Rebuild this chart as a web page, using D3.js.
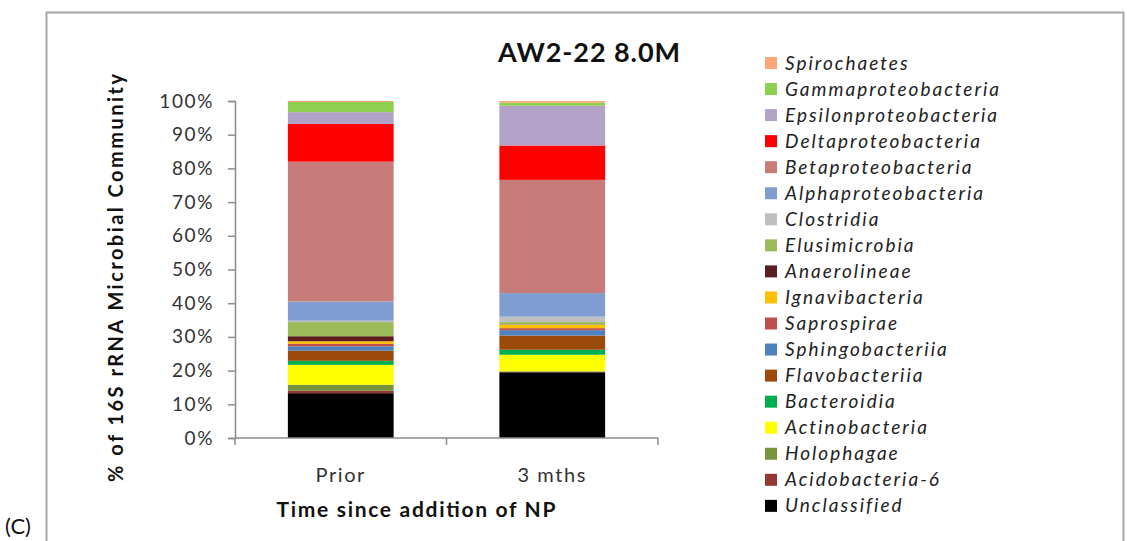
<!DOCTYPE html>
<html>
<head>
<meta charset="utf-8">
<script src="https://cdn.jsdelivr.net/npm/d3@7/dist/d3.min.js"></script>
<style>
  html, body { margin: 0; padding: 0; background: #fff; }
  svg { display: block; font-family: Lato, "Open Sans", "Liberation Sans", sans-serif; }
</style>
</head>
<body>
<svg id="chart" width="1127" height="541"></svg>
<script>
// Time points on the x axis
const categories = ["Prior", "3 mths"];

// Taxa, stacked from the bottom of each bar upward
const taxa = [
  "Unclassified", "Acidobacteria-6", "Holophagae", "Actinobacteria", "Bacteroidia",
  "Flavobacteriia", "Sphingobacteriia", "Saprospirae", "Ignavibacteria", "Anaerolineae",
  "Elusimicrobia", "Clostridia", "Alphaproteobacteria", "Betaproteobacteria",
  "Deltaproteobacteria", "Epsilonproteobacteria", "Gammaproteobacteria", "Spirochaetes"
];

// Relative abundance (%) per taxon, same order as taxa
const priorValues = [13.3, 0.7, 1.8, 5.9, 1.2, 3.0, 1.3, 0.7, 0.8, 1.5, 4.2, 0.4, 5.7, 41.5, 11.2, 3.5, 3.0, 0.3];
const threeMonthValues = [19.5, 0.1, 0.2, 4.9, 1.5, 4.2, 1.6, 0.6, 1.0, 0.1, 0.7, 1.6, 7.0, 33.6, 10.2, 11.8, 0.9, 0.5];

const taxonColors = [
  "#000000", "#953735", "#77933C", "#FFFF00", "#00B050",
  "#9C4A0B", "#4F81BD", "#C0504D", "#FFC000", "#5C1F1F",
  "#9BBB59", "#BFBFBF", "#7F9DD0", "#C87C79",
  "#FF0000", "#B3A2C8", "#8DCF4E", "#FBA77A"
];

const yTicks = [0, 10, 20, 30, 40, 50, 60, 70, 80, 90, 100];

const titleText = "AW2-22 8.0M";
const yTitle = "% of 16S rRNA Microbial Community";
const xTitle = "Time since addition of NP";

// Build rows for the stack (each bar is normalised to 100%)
const rows = categories.map((c, i) => {
  const src = i === 0 ? priorValues : threeMonthValues;
  const total = d3.sum(src);
  const r = { category: c };
  taxa.forEach((t, j) => { r[t] = src[j] / total * 100; });
  return r;
});

const svg = d3.select("#chart");

// Outer frame
svg.append("rect")
  .attr("x", 46.5).attr("y", 12.5)
  .attr("width", 1077).attr("height", 540)
  .attr("fill", "#fff").attr("stroke", "#a6a6a6").attr("stroke-width", 2);

svg.append("text")
  .attr("x", 5).attr("y", 534)
  .attr("font-size", 22).attr("fill", "#111")
  .text("(C)");

const plot = { left: 235, right: 658, top: 101, bottom: 438 };

const x = d3.scaleBand()
  .domain(categories)
  .range([plot.left, plot.right])
  .paddingInner(0.5)
  .paddingOuter(0.25);

const y = d3.scaleLinear()
  .domain([0, 100])
  .range([plot.bottom, plot.top]);

const color = d3.scaleOrdinal().domain(taxa).range(taxonColors);

const series = d3.stack().keys(taxa)(rows);

// Bars
svg.append("g")
  .selectAll("g.layer")
  .data(series)
  .join("g")
  .attr("class", "layer")
  .attr("fill", d => color(d.key))
  .selectAll("rect")
  .data(d => d)
  .join("rect")
  .attr("x", d => x(d.data.category))
  .attr("width", x.bandwidth())
  .attr("y", d => y(d[1]))
  .attr("height", d => Math.max(0, y(d[0]) - y(d[1])));

// Y axis
const yAxis = d3.axisLeft(y)
  .tickValues(yTicks)
  .tickFormat(d => d + "%")
  .tickSize(7)
  .tickPadding(14);

const yg = svg.append("g")
  .attr("transform", `translate(${plot.left},0)`)
  .call(yAxis);
yg.select(".domain").attr("stroke", "#8c8c8c").attr("stroke-width", 1.5);
yg.selectAll(".tick line").attr("stroke", "#8c8c8c").attr("stroke-width", 1.5);
yg.selectAll(".tick text")
  .attr("font-size", 19).attr("fill", "#333")
  .attr("letter-spacing", "1.6px")
  .attr("font-family", "Lato, 'Open Sans', sans-serif");

// X axis: baseline with boundary ticks between categories
const xg = svg.append("g");
xg.append("line")
  .attr("x1", plot.left).attr("x2", plot.right)
  .attr("y1", plot.bottom).attr("y2", plot.bottom)
  .attr("stroke", "#8c8c8c").attr("stroke-width", 1.5);
const boundaries = [plot.left, (x(categories[0]) + x.bandwidth() + x(categories[1])) / 2, plot.right];
xg.selectAll("line.bt")
  .data(boundaries)
  .join("line")
  .attr("class", "bt")
  .attr("x1", d => d).attr("x2", d => d)
  .attr("y1", plot.bottom).attr("y2", plot.bottom + 7)
  .attr("stroke", "#8c8c8c").attr("stroke-width", 1.5);
xg.selectAll("text.cat")
  .data(categories)
  .join("text")
  .attr("class", "cat")
  .attr("x", d => x(d) + x.bandwidth() / 2)
  .attr("y", 482)
  .attr("text-anchor", "middle")
  .attr("font-size", 20).attr("fill", "#333")
  .attr("letter-spacing", "1.6px")
  .text(d => d);

// Titles
svg.append("text")
  .attr("x", 589).attr("y", 62)
  .attr("text-anchor", "middle")
  .attr("font-size", 27).attr("font-weight", "bold").attr("fill", "#111")
  .attr("textLength", 182).attr("lengthAdjust", "spacing")
  .text(titleText);

svg.append("text")
  .attr("transform", "translate(123,278) rotate(-90)")
  .attr("text-anchor", "middle")
  .attr("font-size", 20).attr("font-weight", "bold").attr("fill", "#111")
  .attr("textLength", 408).attr("lengthAdjust", "spacing")
  .text(yTitle);

svg.append("text")
  .attr("x", 416).attr("y", 517)
  .attr("text-anchor", "middle")
  .attr("font-size", 21).attr("font-weight", "bold").attr("fill", "#111")
  .attr("textLength", 279).attr("lengthAdjust", "spacing")
  .text(xTitle);

// Legend, top item is the last stacked taxon
const legendTaxa = taxa.slice().reverse();
const lg = svg.append("g").attr("transform", "translate(765,63)");
const item = lg.selectAll("g.item")
  .data(legendTaxa)
  .join("g")
  .attr("class", "item")
  .attr("transform", (d, i) => `translate(0,${i * 26.05})`);
item.append("rect")
  .attr("x", 0).attr("y", -6)
  .attr("width", 12).attr("height", 12)
  .attr("fill", d => color(d));
item.append("text")
  .attr("x", 20).attr("y", 6.5)
  .attr("font-size", 19).attr("font-style", "italic").attr("fill", "#222")
  .attr("letter-spacing", "2px")
  .text(d => d);
</script>
</body>
</html>
